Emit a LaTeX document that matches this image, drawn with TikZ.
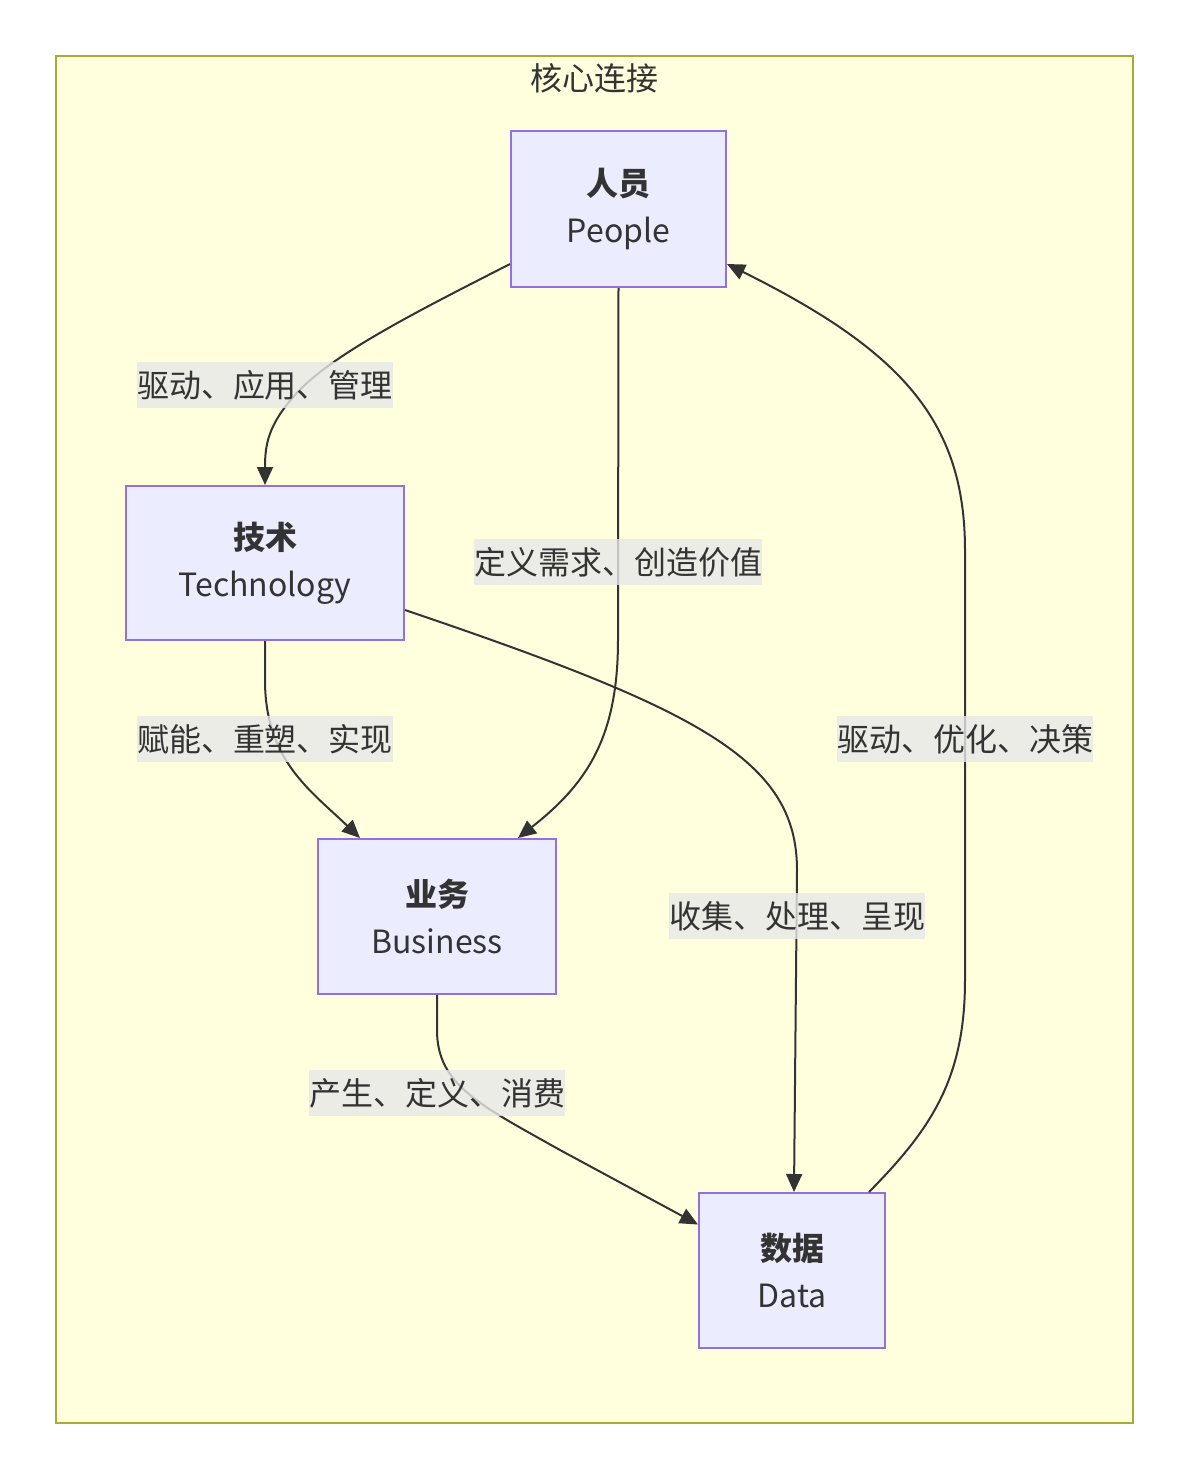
\documentclass[tikz,border=0pt]{standalone}
\usepackage{fontspec}
\setmainfont{Noto Sans CJK SC}
\usetikzlibrary{arrows.meta,calc}
\definecolor{clusterfill}{HTML}{FFFFDE}
\definecolor{clusterdraw}{HTML}{AAAA33}
\definecolor{boxfill}{HTML}{ECECFF}
\definecolor{boxdraw}{HTML}{9370DB}
\definecolor{linkcol}{HTML}{333333}
\definecolor{labfill}{HTML}{E8E8E8}
\begin{document}
\begin{tikzpicture}[x=0.5pt,y=-0.5pt,
    font=\fontsize{16}{23.5}\selectfont, text=linkcol,
    box/.style={draw=boxdraw, fill=boxfill, line width=1pt, align=center, inner sep=0pt},
    link/.style={draw=linkcol, line width=1pt, -{Triangle[length=9pt,width=8pt]}},
    edgelab/.style={fill=labfill, fill opacity=0.8, text opacity=1, inner xsep=0pt, minimum height=23pt}]

    \useasboundingbox (0,0) rectangle (1189,1480);

    \draw[clusterdraw, fill=clusterfill, line width=1pt] (56,56) rectangle (1133,1423);
    \node (title) at (594,78) {核心连接};

    \node[box, minimum width=107.5pt, minimum height=78pt] (people) at (618.5,209) {{\bfseries 人员}\\People};
    \node[box, minimum width=139pt, minimum height=77pt] (tech) at (265,563) {{\bfseries 技术}\\Technology};
    \node[box, minimum width=119pt, minimum height=77.5pt] (business) at (437,916.5) {{\bfseries 业务}\\Business};
    \node[box, minimum width=93pt, minimum height=77.5pt] (data) at (792,1270.5) {{\bfseries 数据}\\Data};

    \draw[link] ($(people.west)+(0,55)$) .. controls (420,310) and (330,355) .. (295,395)
        .. controls (268,425) and (265,445) .. (tech.north);
    \draw[link] (people.south) -- (618,640) .. controls (618,740) and (585,785) .. ($(business.north)+(81,0)$);
    \draw[link] (tech.south) -- (265,680) .. controls (265,760) and (310,790) .. ($(business.north)+(-77,0)$);
    \draw[link] ($(tech.east)+(0,47)$) .. controls (700,710) and (797,760) .. (797,870) -- ($(data.north)+(2,0)$);
    \draw[link] (business.south) -- (437,1030) .. controls (437,1085) and (480,1105) .. (560,1150) -- ($(data.west)+(0,-46)$);
    \draw[link] ($(data.north)+(77,0)$) .. controls (930,1130) and (965,1080) .. (965,980) -- (965,550)
        .. controls (965,420) and (900,350) .. ($(people.east)+(0,55)$);

    \node[edgelab] (lab1) at (265,385) {驱动、应用、管理};
    \node[edgelab] (lab2) at (618,562) {定义需求、创造价值};
    \node[edgelab] (lab3) at (265,739) {赋能、重塑、实现};
    \node[edgelab] (lab4) at (797,916) {收集、处理、呈现};
    \node[edgelab] (lab5) at (437,1093) {产生、定义、消费};
    \node[edgelab] (lab6) at (965,739) {驱动、优化、决策};

\end{tikzpicture}
\end{document}
